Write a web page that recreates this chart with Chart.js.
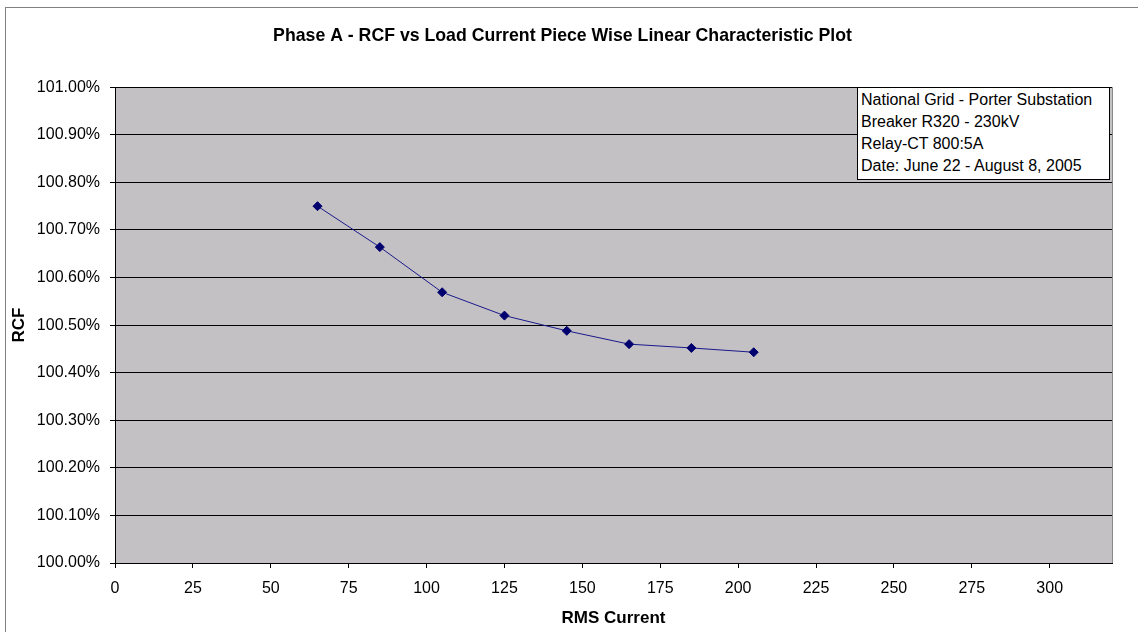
<!DOCTYPE html>
<html>
<head>
<meta charset="utf-8">
<script src="https://cdn.jsdelivr.net/npm/chart.js@4/dist/chart.umd.min.js"></script>
<style>
    body { margin: 0; background: #fff; }
    #wrap { position: relative; width: 1138px; height: 632px; }
    #note {
        position: absolute; left: 857px; top: 87px; width: 245px; height: 90px;
        border: 1px solid #000; background: #fff; padding: 1px 3px 0 3px;
        font: 16px "Liberation Sans", Arial, sans-serif; line-height: 22px; color: #000;
        white-space: nowrap;
    }
</style>
</head>
<body>
<div id="wrap">
    <canvas id="rcfChart" width="1138" height="632"></canvas>
    <div id="note">
        National Grid - Porter Substation<br>
        Breaker R320 - 230kV<br>
        Relay-CT 800:5A<br>
        Date: June 22 - August 8, 2005
    </div>
</div>
<script>
// Data
const rmsCurrent = [65, 85, 105, 125, 145, 165, 185, 205];
const rcfPercent = [100.75, 100.664, 100.569, 100.52, 100.488, 100.46, 100.452, 100.443];

const xTicks = [0, 25, 50, 75, 100, 125, 150, 175, 200, 225, 250, 275, 300];
const yTicks = [100.0, 100.1, 100.2, 100.3, 100.4, 100.5, 100.6, 100.7, 100.8, 100.9, 101.0];

const FONT = '"Liberation Sans", Arial, sans-serif';

// Grey plot area + outer frame, like the old Excel chart
const excelBackground = {
    id: 'excelBackground',
    beforeDraw(chart) {
        const ctx = chart.ctx;
        const a = chart.chartArea;
        ctx.save();
        ctx.fillStyle = '#fff';
        ctx.fillRect(0, 0, chart.width, chart.height);
        ctx.strokeStyle = '#808080';
        ctx.lineWidth = 1;
        ctx.strokeRect(5.5, 7.5, 2000, 2000);
        ctx.fillStyle = '#c3c1c4';
        ctx.fillRect(a.left, a.top, a.right - a.left, a.bottom - a.top);
        ctx.strokeStyle = '#8a8a8a';
        ctx.beginPath();
        ctx.moveTo(a.right + 0.5, a.top);
        ctx.lineTo(a.right + 0.5, a.bottom);
        ctx.stroke();
        ctx.restore();
    }
};

const ctx = document.getElementById('rcfChart').getContext('2d');
new Chart(ctx, {
    type: 'scatter',
    data: {
        datasets: [{
            label: 'RCF',
            data: rmsCurrent.map((x, i) => ({ x: x, y: rcfPercent[i] })),
            showLine: true,
            borderColor: '#1a1a8c',
            borderWidth: 1,
            pointStyle: 'rectRot',
            pointRadius: 4.5,
            pointBackgroundColor: '#00006e',
            pointBorderColor: '#00006e',
            pointBorderWidth: 1,
        }]
    },
    options: {
        responsive: false,
        animation: false,
        layout: { padding: { left: 13, right: 26, top: 0, bottom: 0 } },
        plugins: {
            legend: { display: false },
            tooltip: { enabled: false },
            title: {
                display: true,
                text: 'Phase A - RCF vs Load Current Piece Wise Linear Characteristic Plot',
                color: '#000',
                font: { family: FONT, size: 17.7, weight: 'bold' },
                padding: { top: 25, bottom: 41 },
            },
        },
        scales: {
            x: {
                type: 'linear',
                min: 0,
                max: 320,
                afterFit(scale) { scale.height = 69; },
                afterBuildTicks(scale) { scale.ticks = xTicks.map(v => ({ value: v })); },
                grid: { drawOnChartArea: false, drawTicks: true, tickLength: 5, color: '#000' },
                border: { color: '#000', width: 1 },
                ticks: { color: '#000', padding: 11, maxRotation: 0, font: { family: FONT, size: 16 } },
                title: {
                    display: true,
                    text: 'RMS Current',
                    color: '#000',
                    font: { family: FONT, size: 17, weight: 'bold' },
                    padding: { top: 0, bottom: 3 },
                },
            },
            y: {
                type: 'linear',
                min: 100,
                max: 101,
                afterFit(scale) { scale.width = 102; },
                afterBuildTicks(scale) { scale.ticks = yTicks.map(v => ({ value: v })); },
                grid: { color: '#000', lineWidth: 1, tickLength: 5 },
                border: { color: '#000', width: 1 },
                ticks: {
                    color: '#000',
                    padding: 10,
                    font: { family: FONT, size: 16 },
                    callback: v => v.toFixed(2) + '%',
                },
                title: {
                    display: true,
                    text: 'RCF',
                    color: '#000',
                    font: { family: FONT, size: 17, weight: 'bold', lineHeight: 0.8 },
                    padding: 0,
                },
            },
        },
    },
    plugins: [excelBackground],
});
</script>
</body>
</html>
